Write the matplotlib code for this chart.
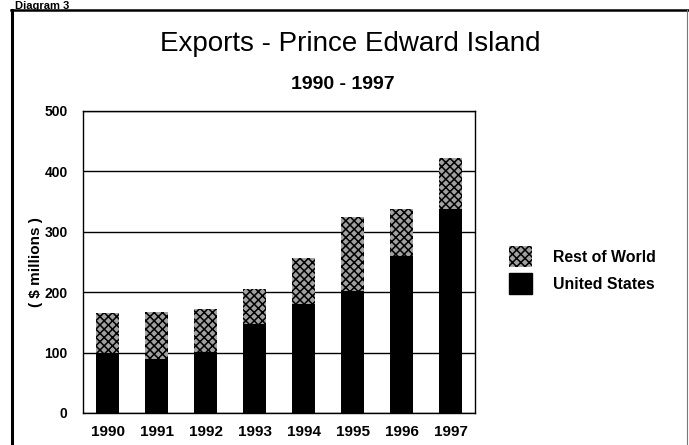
import numpy as np
import matplotlib.pyplot as plt
from matplotlib.lines import Line2D
from matplotlib.patches import Patch

plt.rcParams['font.family'] = ['Liberation Sans', 'DejaVu Sans']
plt.rcParams['hatch.linewidth'] = 1.1

# data ($ millions)
years = ['1990', '1991', '1992', '1993', '1994', '1995', '1996', '1997']
united_states = [100, 90, 101, 147, 180, 202, 259, 338]
rest_of_world = [65, 77, 71, 58, 77, 122, 79, 84]

fig = plt.figure(figsize=(6.89, 4.45), dpi=100)
ax = fig.add_axes([0.1205, 0.072, 0.569, 0.679])

x = np.arange(len(years))
ax.bar(x, united_states, width=0.47, color='black', zorder=3)
ax.bar(x, rest_of_world, width=0.47, bottom=united_states, color='#a0a0a0',
       edgecolor='black', hatch='xxxx', linewidth=0, zorder=3)

ax.set_xlim(-0.5, len(years) - 0.5)
ax.set_ylim(0, 500)
ax.set_yticks([0, 100, 200, 300, 400, 500])
ax.set_xticks(x)
ax.set_xticklabels(years)
ax.yaxis.grid(True, color='black', linewidth=1.0, zorder=1)
ax.set_axisbelow(True)
ax.tick_params(length=0)
ax.tick_params(axis='x', pad=9, labelsize=11)
ax.tick_params(axis='y', pad=11, labelsize=10)
for lbl in ax.get_xticklabels() + ax.get_yticklabels():
    lbl.set_fontweight('bold')
for s in ax.spines.values():
    s.set_linewidth(1.0)
ax.set_ylabel('( $ millions )', fontsize=11, fontweight='bold', labelpad=1)

fig.text(0.508, 0.901, 'Exports - Prince Edward Island', ha='center', va='center', fontsize=20)
fig.text(0.497, 0.81, '1990 - 1997', ha='center', va='center', fontsize=14, fontweight='bold')

handles = [Patch(facecolor='#a0a0a0', edgecolor='black', hatch='xxxx', linewidth=0),
           Patch(facecolor='black', edgecolor='black')]
fig.legend(handles, ['Rest of World', 'United States'], loc='upper left',
           bbox_to_anchor=(0.7388, 0.447), frameon=False, borderpad=0, borderaxespad=0,
           prop={'weight': 'bold', 'size': 11.4}, handlelength=1.46, handleheight=1.7,
           handletextpad=1.33, labelspacing=0.35)

# outer frame of the page
fig.add_artist(Line2D([0.017, 0.017], [-0.05, 0.977], color='black', linewidth=2.2))
fig.add_artist(Line2D([0.016, 0.998], [0.977, 0.977], color='black', linewidth=1.8))
fig.add_artist(Line2D([0.997, 0.997], [-0.05, 0.977], color='#777777', linewidth=0.8))
fig.text(0.022, 0.998, 'Diagram 3', ha='left', va='top', fontsize=8, fontweight='bold')

fig.savefig('out.png', dpi=100)
